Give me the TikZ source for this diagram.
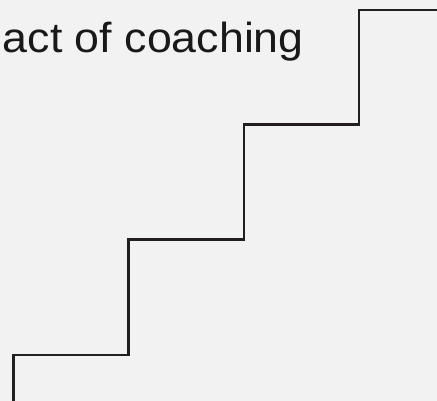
\documentclass[tikz,border=0pt]{standalone}
\usepackage{fontspec}
\setmainfont{Liberation Sans}
\definecolor{bg}{HTML}{F1F2F1}
\definecolor{ink}{HTML}{231F20}
\begin{document}
\begin{tikzpicture}[x=1pt,y=1pt,
  stair/.style={draw=ink,line width=2.4pt,line join=miter},
  title/.style={inner sep=0pt,anchor=base east,text=black!90,xscale=1.065,font=\fontsize{42}{42}\selectfont}]
\useasboundingbox (0,0) rectangle (437,401);
\clip (0,0) rectangle (437,401);
\fill[bg] (0,0) rectangle (437,401);
\node[title] (t) at (304,348.3) {act of coaching};
\coordinate (p0) at (13.3,-5);
\coordinate (p1) at (13.3,46);
\coordinate (p2) at (128.5,46);
\coordinate (p3) at (128.5,161.5);
\coordinate (p4) at (243.7,161.5);
\coordinate (p5) at (243.7,276.3);
\coordinate (p6) at (358.7,276.3);
\coordinate (p7) at (358.7,391);
\coordinate (p8) at (442,391);
\draw[stair] (p0) -- (p1) -- (p2) -- (p3) -- (p4) -- (p5) -- (p6) -- (p7) -- (p8);
\end{tikzpicture}
\end{document}
